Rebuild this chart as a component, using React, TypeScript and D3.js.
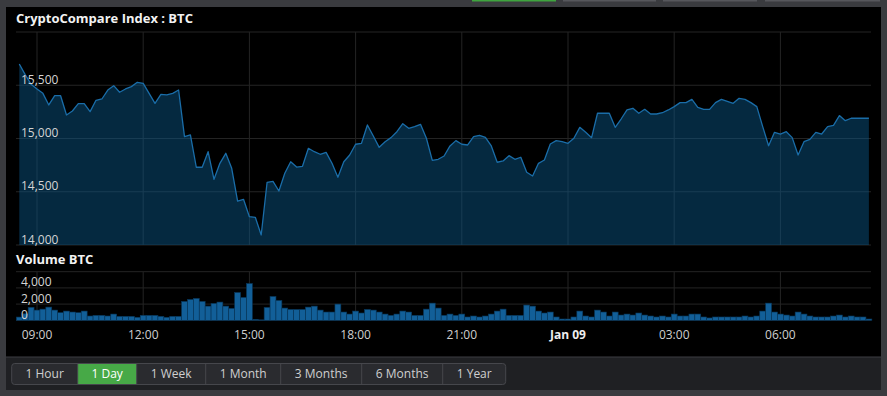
import React from "react";
import * as d3 from "d3";

// 10-minute samples, starting 08:30 on Jan 8
const START = Date.UTC(2018, 0, 8, 8, 30);
const STEP_MS = 10 * 60 * 1000;
const SPAN_MS = 24 * 60 * 60 * 1000;

const priceValues = [
  15700, 15600, 15509, 15465, 15424, 15315, 15402, 15402, 15221, 15258,
  15327, 15327, 15252, 15359, 15371, 15455, 15496, 15434, 15465, 15487,
  15528, 15518, 15424, 15330, 15415, 15409, 15424, 15455, 15017, 15033,
  14730, 14730, 14876, 14617, 14767, 14861, 14720, 14413, 14429, 14266,
  14260, 14094, 14589, 14598, 14507, 14673, 14782, 14732, 14739, 14908,
  14876, 14852, 14870, 14767, 14636, 14782, 14845, 14946, 14955, 15127,
  15023, 14917, 14970, 15008, 15064, 15139, 15096, 15111, 15133, 15002,
  14795, 14805, 14836, 14930, 14980, 14946, 14939, 15017, 15030, 15011,
  14930, 14777, 14789, 14839, 14805, 14824, 14683, 14648, 14767, 14798,
  14948, 14980, 14970, 14955, 15002, 15105, 15058, 15008, 15237, 15237,
  15237, 15105, 15183, 15268, 15284, 15237, 15274, 15230, 15230, 15242,
  15268, 15299, 15337, 15337, 15368, 15293, 15274, 15274, 15337, 15368,
  15349, 15330, 15377, 15368, 15337, 15299, 15111, 14932, 15058, 15042,
  15064, 15008, 14845, 14970, 14992, 15058, 15042, 15111, 15124, 15215,
  15167, 15190, 15190, 15190, 15190,
];

const volumeValues = [
  400, 800, 1600, 1260, 1380, 1630, 1260, 940, 1140, 1020,
  940, 1140, 530, 610, 610, 530, 770, 490, 490, 490,
  370, 610, 610, 610, 490, 370, 490, 490, 2330, 2570,
  2700, 2330, 1750, 2080, 2250, 1750, 1470, 3430, 2820, 4540,
  120, 50, 1590, 2940, 2450, 1510, 1340, 1340, 1340, 1630,
  1750, 1260, 1020, 1020, 2000, 1020, 770, 1140, 900, 1340,
  1260, 1020, 770, 610, 770, 1140, 1020, 610, 610, 1380,
  2120, 1510, 610, 770, 610, 770, 410, 530, 410, 530,
  770, 1140, 1380, 610, 610, 610, 1880, 1750, 1140, 900,
  1020, 410, 160, 160, 410, 1140, 530, 410, 1260, 1020,
  530, 1020, 650, 770, 650, 900, 650, 530, 410, 530,
  410, 770, 530, 530, 770, 770, 410, 290, 410, 410,
  410, 410, 410, 530, 410, 530, 1140, 2120, 1020, 770,
  650, 530, 1020, 770, 530, 410, 410, 410, 530, 650,
  410, 530, 410, 410, 160,
];

const priceTicks = [14000, 14500, 15000, 15500, 16000];
const volumeTicks = [0, 2000, 4000, 6000];
const tickHours = [9, 12, 15, 18, 21, 24, 27, 30];
const ranges = ["1 Hour", "1 Day", "1 Week", "1 Month", "3 Months", "6 Months", "1 Year"];
const activeRange = "1 Day";
const topTabs = [0, 1, 2, 3];

const W = 887;
const H = 396;
const FONT = "'Open Sans', 'DejaVu Sans', sans-serif";

const price = priceValues.map((v, i) => ({ t: START + i * STEP_MS, v }));
const volume = volumeValues.map((v, i) => ({ t: START + i * STEP_MS, v }));

function textWidth(s: string, font: string) {
  const c = document.createElement("canvas").getContext("2d");
  if (!c) return s.length * 6.5;
  c.font = font;
  return c.measureText(s).width;
}

export default function App() {
  const x = d3.scaleUtc().domain([START, START + SPAN_MS]).range([19.3, 868.9]);
  const y = d3.scaleLinear().domain([14000, 16000]).range([245, 32]);
  const yv = d3.scaleLinear().domain([0, 6000]).range([320.3, 271.7]);
  const gridLeft = 16;
  const gridRight = 871;
  const step = x(START + STEP_MS) - x(START);

  const area = d3
    .area<{ t: number; v: number }>()
    .x((d) => x(d.t))
    .y0(y(14000))
    .y1((d) => y(d.v));
  const line = d3
    .line<{ t: number; v: number }>()
    .x((d) => x(d.t))
    .y((d) => y(d.v));

  const ticks = tickHours.map((h) => Date.UTC(2018, 0, 8, h));
  const fmt = (t: number) => {
    const d = new Date(t);
    return d.getUTCHours() === 0 ? d3.utcFormat("%b %d")(d) : d3.utcFormat("%H:%M")(d);
  };

  // range selector buttons
  const btnFont = `12px ${FONT}`;
  let bx = 11.7;
  const buttons = ranges.map((r) => {
    const w = Math.round(textWidth(r, btnFont) + 28);
    const b = { r, x: bx, w };
    bx += w;
    return b;
  });

  return (
    <svg
      width={W}
      height={H}
      style={{ position: "fixed", left: 0, top: 0, display: "block" }}
      fontFamily={FONT}
    >
      <rect width={W} height={H} fill="#3a3b3f" />
      {topTabs.map((k) => {
        const xs = [472, 563, 663, 765];
        const ws = [84, 93, 94, 115];
        return (
          <rect key={k} x={xs[k]} y={0} width={ws[k]} height={1.5} fill={k === 0 ? "#3fa43f" : "#56575c"} />
        );
      })}
      <rect x={6} y={7} width={875} height={350} fill="#000" />
      <rect x={6} y={357} width={875} height={33} fill="#1f2023" />
      <line x1={6} x2={881} y1={357} y2={357} stroke="#3c3d42" />

      <text x={16} y={22.5} fill="#f2f2f2" fontSize={13} fontWeight="bold">
        CryptoCompare Index : BTC
      </text>
      <text x={16} y={263.5} fill="#f2f2f2" fontSize={13} fontWeight="bold">
        Volume BTC
      </text>

      {/* price pane grid */}
      {priceTicks.map((p) => (
        <line key={p} x1={gridLeft} x2={gridRight} y1={y(p)} y2={y(p)} stroke="#242424" />
      ))}
      {ticks.map((t) => (
        <line key={t} x1={x(t)} x2={x(t)} y1={y(16000)} y2={y(14000)} stroke="#242424" />
      ))}
      <path d={area(price) || ""} fill="#0a5a8f" fillOpacity={0.45} />
      <path d={line(price) || ""} fill="none" stroke="#1a6da8" strokeWidth={1.3} strokeLinejoin="round" />
      {priceTicks.slice(0, -1).map((p) => (
        <text key={p} x={21} y={y(p) - 1.5} fill="#d4d4d4" fontSize={12}>
          {d3.format(",")(p)}
        </text>
      ))}

      {/* volume pane */}
      {volumeTicks.map((v) => (
        <line key={v} x1={gridLeft} x2={gridRight} y1={yv(v)} y2={yv(v)} stroke="#242424" />
      ))}
      {ticks.map((t) => (
        <line key={t} x1={x(t)} x2={x(t)} y1={yv(6000)} y2={yv(0)} stroke="#242424" />
      ))}
      {volume.map((d) => (
        <rect
          key={d.t}
          x={x(d.t) - step / 2}
          y={yv(d.v)}
          width={step}
          height={yv(0) - yv(d.v)}
          fill="#125f98"
          stroke="#083659"
          strokeWidth={0.6}
        />
      ))}
      {volumeTicks.slice(0, -1).map((v) => (
        <text key={v} x={21} y={yv(v) - 1.5} fill="#d4d4d4" fontSize={12}>
          {d3.format(",")(v)}
        </text>
      ))}

      {ticks.map((t) => {
        const label = fmt(t);
        const bold = new Date(t).getUTCHours() === 0;
        return (
          <text
            key={t}
            x={x(t)}
            y={339}
            textAnchor="middle"
            fill={bold ? "#eeeeee" : "#cfcfcf"}
            fontWeight={bold ? "bold" : "normal"}
            fontSize={12}
          >
            {label}
          </text>
        );
      })}

      {/* range selector */}
      <rect x={11.7} y={363.5} width={bx - 11.7} height={21} rx={3} fill="#2a2b2f" stroke="#46474c" />
      {buttons.map((b, i) => (
        <g key={b.r}>
          {b.r === activeRange && (
            <rect x={b.x} y={364} width={b.w} height={20} fill="#47a947" />
          )}
          {i > 0 && <line x1={b.x} x2={b.x} y1={364} y2={384} stroke="#46474c" />}
          <text
            x={b.x + b.w / 2}
            y={378}
            textAnchor="middle"
            fontSize={12}
            fill={b.r === activeRange ? "#ffffff" : "#cfcfcf"}
          >
            {b.r}
          </text>
        </g>
      ))}
    </svg>
  );
}
